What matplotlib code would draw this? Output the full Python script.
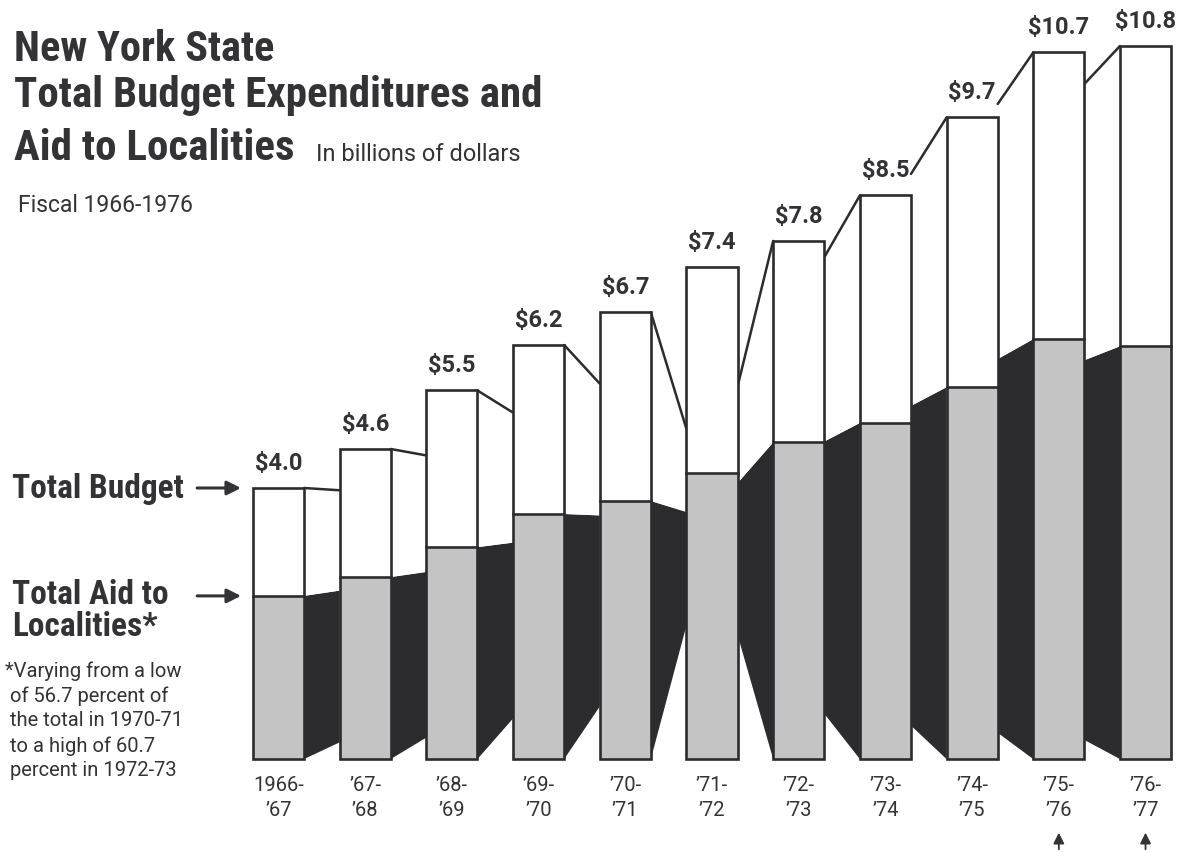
import numpy as np
import matplotlib
matplotlib.use("Agg")
import matplotlib.pyplot as plt
from matplotlib.patches import Polygon, Rectangle

# data (billions of dollars)
years = ["1966-\n’67", "’67-\n’68", "’68-\n’69", "’69-\n’70", "’70-\n’71", "’71-\n’72",
         "’72-\n’73", "’73-\n’74", "’74-\n’75", "’75-\n’76", "’76-\n’77"]
total = [4.0, 4.6, 5.5, 6.2, 6.7, 7.4, 7.8, 8.5, 9.7, 10.7, 10.8]
aid = [2.34, 2.63, 3.09, 3.6, 3.8, 4.23, 4.7, 5.0, 5.55, 6.29, 6.18]
labels = ["$4.0", "$4.6", "$5.5", "$6.2", "$6.7", "$7.4", "$7.8", "$8.5", "$9.7", "$10.7", "$10.8"]
# perspective shrink of each side panel (between bar k and k+1)
shrink = [0.93, 0.91, 0.83, 0.78, 0.44, 0.48, 0.81, 0.86, 0.89, 0.92]

COND = ["Roboto Condensed", "DejaVu Sans"]
WIDE = ["Roboto", "DejaVu Sans"]
INK, DARK, GRAY = "#333336", "#2c2c2f", "#c4c4c4"
plt.rcParams["font.family"] = COND

fig = plt.figure(figsize=(11.79, 8.53), dpi=100)
ax = fig.add_axes([0, 0, 1, 1])
ax.set_xlim(-3.212, 10.386)
ax.set_ylim(-1.6, 11.523)
ax.axis("off")

W = 0.59       # bar front width
BASE = -0.17   # ground line
VAN = 3.5      # vanishing height

# side panels
for k, s in enumerate(shrink):
    if k <= 4:
        n, xn, xf = k, k + W / 2, k + 1 - W / 2
    else:
        n, xn, xf = k + 1, k + 1 - W / 2, k + W / 2
    far = lambda v: VAN + (v - VAN) * s
    ax.add_patch(Polygon([(xn, BASE), (xn, aid[n]), (xf, far(aid[n])), (xf, far(BASE))],
                         closed=True, fc=DARK, ec="none", zorder=1))
    ax.add_patch(Polygon([(xn, aid[n]), (xn, total[n]), (xf, far(total[n])), (xf, far(aid[n]))],
                         closed=True, fc="white", ec="none", zorder=1))
    ax.plot([xn, xf], [total[n], far(total[n])], color=DARK, lw=1.8, zorder=2,
            solid_capstyle="round")

# front faces
for i in range(len(total)):
    x0 = i - W / 2
    ax.add_patch(Rectangle((x0, BASE), W, aid[i] - BASE, fc=GRAY, ec="none", zorder=3))
    ax.add_patch(Rectangle((x0, aid[i]), W, total[i] - aid[i], fc="white", ec="none", zorder=3))
    ax.add_patch(Rectangle((x0, BASE), W, total[i] - BASE, fc="none", ec=DARK, lw=1.9,
                           zorder=4, joinstyle="miter"))
    ax.plot([x0, x0 + W], [aid[i], aid[i]], color=DARK, lw=1.9, zorder=4)
    ax.text(i, total[i] + 0.22, labels[i], ha="center", va="bottom", fontsize=17,
            fontweight="bold", color=INK, family=WIDE)
    ax.text(i, -0.42, years[i], ha="center", va="top", fontsize=14.5, color=INK,
            linespacing=1.35, family=WIDE)

# small arrows under the last two years
for i in (9, 10):
    ax.annotate("", xy=(i, -1.26), xytext=(i, -1.6),
                arrowprops=dict(arrowstyle="-|>", lw=1.3, color=INK, mutation_scale=16))

# side labels with arrows
ax.annotate("", xy=(-0.40, total[0]), xytext=(-0.97, total[0]),
            arrowprops=dict(arrowstyle="-|>", lw=2.2, color=INK, mutation_scale=21))
ax.annotate("", xy=(-0.40, aid[0]), xytext=(-0.97, aid[0]),
            arrowprops=dict(arrowstyle="-|>", lw=2.2, color=INK, mutation_scale=21))


def fx(x):
    return x / 1179


def fy(y):
    return 1 - y / 853


fig.text(fx(12), fy(489), "Total Budget", fontsize=24, fontweight="bold", color=INK, va="center")
fig.text(fx(12), fy(611), "Total Aid to\nLocalities*", fontsize=24, fontweight="bold",
         color=INK, va="center", linespacing=0.98)
fig.text(fx(5), fy(661), "*Varying from a low\n of 56.7 percent of\n the total in 1970-71\n"
         " to a high of 60.7\n percent in 1972-73", fontsize=14.5, color=INK, va="top",
         linespacing=1.37, family=WIDE)

fig.text(fx(14), fy(61), "New York State", fontsize=30.5, fontweight="bold", color=INK)
fig.text(fx(14), fy(107), "Total Budget Expenditures and", fontsize=31, fontweight="bold",
         color=INK)
fig.text(fx(14), fy(160), "Aid to Localities", fontsize=31, fontweight="bold", color=INK)
fig.text(fx(316), fy(161), "In billions of dollars", fontsize=17, color=INK, family=WIDE)
fig.text(fx(18), fy(212), "Fiscal 1966-1976", fontsize=16.5, color=INK, family=WIDE)

fig.savefig("out.png", dpi=100, facecolor="white")
